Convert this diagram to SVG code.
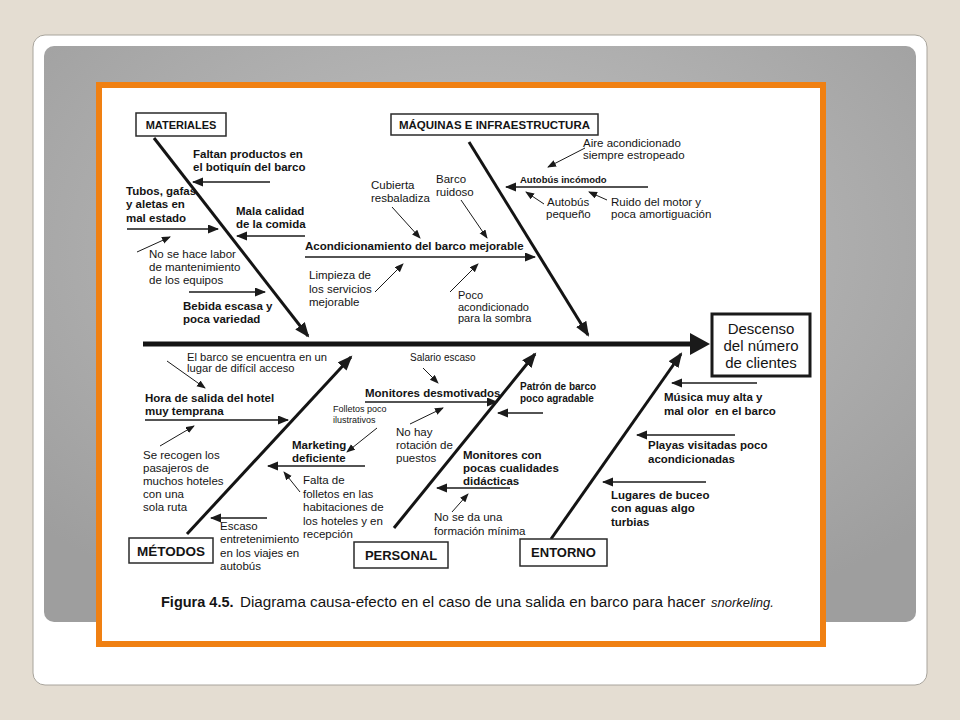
<svg xmlns="http://www.w3.org/2000/svg" width="960" height="720" viewBox="0 0 960 720">
<defs>
<radialGradient id="gpanel" cx="50%" cy="35%" r="70%">
<stop offset="0" stop-color="#c2c2c2"/>
<stop offset="1" stop-color="#9e9e9e"/>
</radialGradient>
<marker id="big" markerUnits="userSpaceOnUse" markerWidth="16" markerHeight="12" refX="13" refY="6" orient="auto">
<path d="M0,0 L15,6 L0,12 z" fill="#1a1a1a"/>
</marker>
<marker id="mid" markerUnits="userSpaceOnUse" markerWidth="12" markerHeight="10" refX="10" refY="4.5" orient="auto">
<path d="M0,0 L11,4.5 L0,9 z" fill="#1a1a1a"/>
</marker>
<marker id="thin" markerUnits="userSpaceOnUse" markerWidth="10" markerHeight="8" refX="8" refY="3.5" orient="auto">
<path d="M0,0 L9,3.5 L0,7 z" fill="#1a1a1a"/>
</marker>
<style>
text{font-family:"Liberation Sans",Arial,sans-serif;fill:#141414}
.b{font-weight:bold;font-size:11.5px}
.r{font-size:11.5px}
.s{font-size:10px}
.box{fill:#fff;stroke:#2a2a2a;stroke-width:1.5}
.bt{font-weight:bold;text-anchor:middle}
.bone{stroke:#141414;stroke-width:3;fill:none;marker-end:url(#big)}
.arr{stroke:#1a1a1a;stroke-width:1.6;fill:none;marker-end:url(#mid)}
.ann{stroke:#1a1a1a;stroke-width:1;fill:none;marker-end:url(#thin)}
</style>
</defs>
<rect width="960" height="720" fill="#e4ddd2"/>
<rect x="33" y="35" width="894" height="650" rx="12" fill="#fff" stroke="#a8a49c" stroke-width="1"/>
<rect x="44" y="46" width="872" height="576" rx="10" fill="url(#gpanel)"/>
<rect x="99" y="85" width="724" height="559" fill="#fff" stroke="#f08012" stroke-width="6"/>

<g id="connectors">
<line x1="143" y1="344" x2="692" y2="344" stroke="#141414" stroke-width="5"/>
<polygon points="690,333 710,344 690,355" fill="#1a1a1a"/>
<line class="bone" x1="154" y1="138" x2="308" y2="336"/>
<line class="bone" x1="469" y1="142" x2="588" y2="335"/>
<line class="bone" x1="187" y1="534" x2="351" y2="357"/>
<line class="bone" x1="394" y1="528" x2="535" y2="354"/>
<line class="bone" x1="551" y1="539" x2="681" y2="354"/>
<line class="arr" x1="270" y1="182" x2="193" y2="182"/>
<line class="arr" x1="127" y1="229" x2="218" y2="229"/>
<line class="arr" x1="305" y1="236" x2="237" y2="236"/>
<line class="ann" x1="137" y1="252" x2="170" y2="237"/>
<line class="arr" x1="189" y1="292" x2="265" y2="292" stroke-width="1.3"/>
<line class="arr" x1="305" y1="257" x2="535" y2="257"/>
<line class="ann" x1="392" y1="207" x2="420" y2="238"/>
<line class="ann" x1="461" y1="200" x2="487" y2="238"/>
<line class="arr" x1="648" y1="187" x2="506" y2="187"/>
<line class="ann" x1="585" y1="148" x2="548" y2="167"/>
<line class="ann" x1="544" y1="204" x2="526" y2="192"/>
<line class="ann" x1="607" y1="200" x2="589" y2="192"/>
<line class="ann" x1="375" y1="292" x2="403" y2="264"/>
<line class="ann" x1="450" y1="292" x2="478" y2="264"/>
<line class="ann" x1="167" y1="361" x2="205" y2="388"/>
<line class="arr" x1="145" y1="420" x2="288" y2="420"/>
<line class="ann" x1="160" y1="446" x2="194" y2="426"/>
<line class="arr" x1="365" y1="466" x2="268" y2="466"/>
<line class="ann" x1="377" y1="428" x2="347" y2="452"/>
<line class="ann" x1="300" y1="492" x2="284" y2="472"/>
<line class="arr" x1="267" y1="518" x2="211" y2="518" stroke-width="1.2"/>
<line class="ann" x1="423" y1="368" x2="438" y2="383"/>
<line class="arr" x1="365" y1="402" x2="497" y2="402"/>
<line class="arr" x1="543" y1="413" x2="498" y2="413"/>
<line class="ann" x1="410" y1="424" x2="443" y2="408"/>
<line class="arr" x1="510" y1="488" x2="437" y2="488"/>
<line class="ann" x1="452" y1="512" x2="468" y2="494"/>
<line class="arr" x1="757" y1="383" x2="672" y2="383"/>
<line class="arr" x1="735" y1="435" x2="637" y2="435"/>
<line class="arr" x1="706" y1="482" x2="603" y2="482"/>
</g>

<g id="effect">
<rect x="712" y="314" width="98" height="62" fill="#fff" stroke="#1a1a1a" stroke-width="3"/>
<text x="761" y="334" font-size="15" text-anchor="middle">Descenso</text>
<text x="761" y="351" font-size="15" text-anchor="middle">del número</text>
<text x="761" y="368" font-size="15" text-anchor="middle">de clientes</text>
</g>

<g id="materiales">
<rect class="box" x="136" y="113" width="90" height="23"/>
<text class="bt" x="181" y="129" font-size="11">MATERIALES</text>
</g>
<g id="maquinas">
<rect class="box" x="391" y="114" width="207" height="21"/>
<text class="bt" x="494.5" y="129" font-size="11.5">MÁQUINAS E INFRAESTRUCTURA</text>
</g>
<g id="metodos">
<rect class="box" x="129" y="538" width="84" height="25"/>
<text class="bt" x="171" y="556" font-size="13.5">MÉTODOS</text>
</g>
<g id="personal">
<rect class="box" x="354" y="542" width="94" height="26"/>
<text class="bt" x="401" y="560" font-size="13">PERSONAL</text>
</g>
<g id="entorno">
<rect class="box" x="520" y="539" width="87" height="27"/>
<text class="bt" x="563.5" y="557" font-size="13">ENTORNO</text>
</g>

<g id="mat-causes">
<text class="b" x="193" y="158">Faltan productos en</text>
<text class="b" x="193" y="171">el botiquín del barco</text>
<text class="b" x="126" y="195">Tubos, gafas</text>
<text class="b" x="126" y="208">y aletas en</text>
<text class="b" x="126" y="222">mal estado</text>
<text class="b" x="236" y="215">Mala calidad</text>
<text class="b" x="236" y="228">de la comida</text>
<text class="r" x="149" y="258">No se hace labor</text>
<text class="r" x="149" y="271">de mantenimiento</text>
<text class="r" x="149" y="284">de los equipos</text>
<text class="b" x="183" y="310">Bebida escasa y</text>
<text class="b" x="183" y="323">poca variedad</text>
</g>

<g id="maq-causes">
<text class="b" x="305" y="250">Acondicionamiento del barco mejorable</text>
<text class="r" x="371" y="189">Cubierta</text>
<text class="r" x="371" y="202">resbaladiza</text>
<text class="r" x="436" y="183">Barco</text>
<text class="r" x="436" y="196">ruidoso</text>
<text x="520" y="183" font-size="9.5" font-weight="bold">Autobús incómodo</text>
<text class="r" x="583" y="147">Aire acondicionado</text>
<text class="r" x="583" y="159">siempre estropeado</text>
<text class="r" x="547" y="206">Autobús</text>
<text class="r" x="546" y="218">pequeño</text>
<text class="r" x="611" y="206">Ruido del motor y</text>
<text class="r" x="611" y="218">poca amortiguación</text>
<text class="r" x="309" y="279">Limpieza de</text>
<text class="r" x="309" y="293">los servicios</text>
<text class="r" x="309" y="306">mejorable</text>
<text x="458" y="299" font-size="11">Poco</text>
<text x="458" y="311" font-size="11">acondicionado</text>
<text x="458" y="322" font-size="11">para la sombra</text>
</g>

<g id="met-causes">
<text x="187" y="361" font-size="11.2">El barco se encuentra en un</text>
<text x="187" y="372" font-size="11.2">lugar de difícil acceso</text>
<text class="b" x="145" y="402">Hora de salida del hotel</text>
<text class="b" x="145" y="415">muy temprana</text>
<text class="r" x="143" y="459">Se recogen los</text>
<text class="r" x="143" y="472">pasajeros de</text>
<text class="r" x="143" y="485">muchos hoteles</text>
<text class="r" x="143" y="498">con una</text>
<text class="r" x="143" y="511">sola ruta</text>
<text class="b" x="292" y="449">Marketing</text>
<text class="b" x="292" y="462">deficiente</text>
<text x="333" y="412" font-size="9">Folletos poco</text>
<text x="333" y="423" font-size="9">ilustrativos</text>
<text class="r" x="303" y="484">Falta de</text>
<text class="r" x="303" y="498">folletos en las</text>
<text class="r" x="303" y="511">habitaciones de</text>
<text class="r" x="303" y="525">los hoteles y en</text>
<text class="r" x="303" y="538">recepción</text>
<text class="r" x="220" y="530">Escaso</text>
<text class="r" x="220" y="543">entretenimiento</text>
<text class="r" x="220" y="557">en los viajes en</text>
<text class="r" x="220" y="570">autobús</text>
</g>

<g id="per-causes">
<text class="s" x="410" y="361">Salario escaso</text>
<text class="b" x="365" y="397">Monitores desmotivados</text>
<text x="520" y="390" font-size="10" font-weight="bold">Patrón de barco</text>
<text x="520" y="402" font-size="10" font-weight="bold">poco agradable</text>
<text class="r" x="396" y="436">No hay</text>
<text class="r" x="396" y="449">rotación de</text>
<text class="r" x="396" y="462">puestos</text>
<text class="b" x="463" y="459">Monitores con</text>
<text class="b" x="463" y="472">pocas cualidades</text>
<text class="b" x="463" y="485">didácticas</text>
<text class="r" x="434" y="521">No se da una</text>
<text class="r" x="434" y="535">formación mínima</text>
</g>

<g id="ent-causes">
<text class="b" x="664" y="401">Música muy alta y</text>
<text class="b" x="664" y="415" xml:space="preserve">mal olor  en el barco</text>
<text class="b" x="648" y="449">Playas visitadas poco</text>
<text class="b" x="648" y="463">acondicionadas</text>
<text class="b" x="611" y="499">Lugares de buceo</text>
<text class="b" x="611" y="512">con aguas algo</text>
<text class="b" x="611" y="526">turbias</text>
</g>

<g id="caption">
<text x="161" y="607" font-size="14.5" font-weight="bold">Figura 4.5.</text>
<text x="240" y="607" font-size="15.2">Diagrama causa-efecto en el caso de una salida en barco para hacer</text>
<text x="711" y="607" font-size="13" font-style="italic">snorkeling.</text>
</g>
</svg>
